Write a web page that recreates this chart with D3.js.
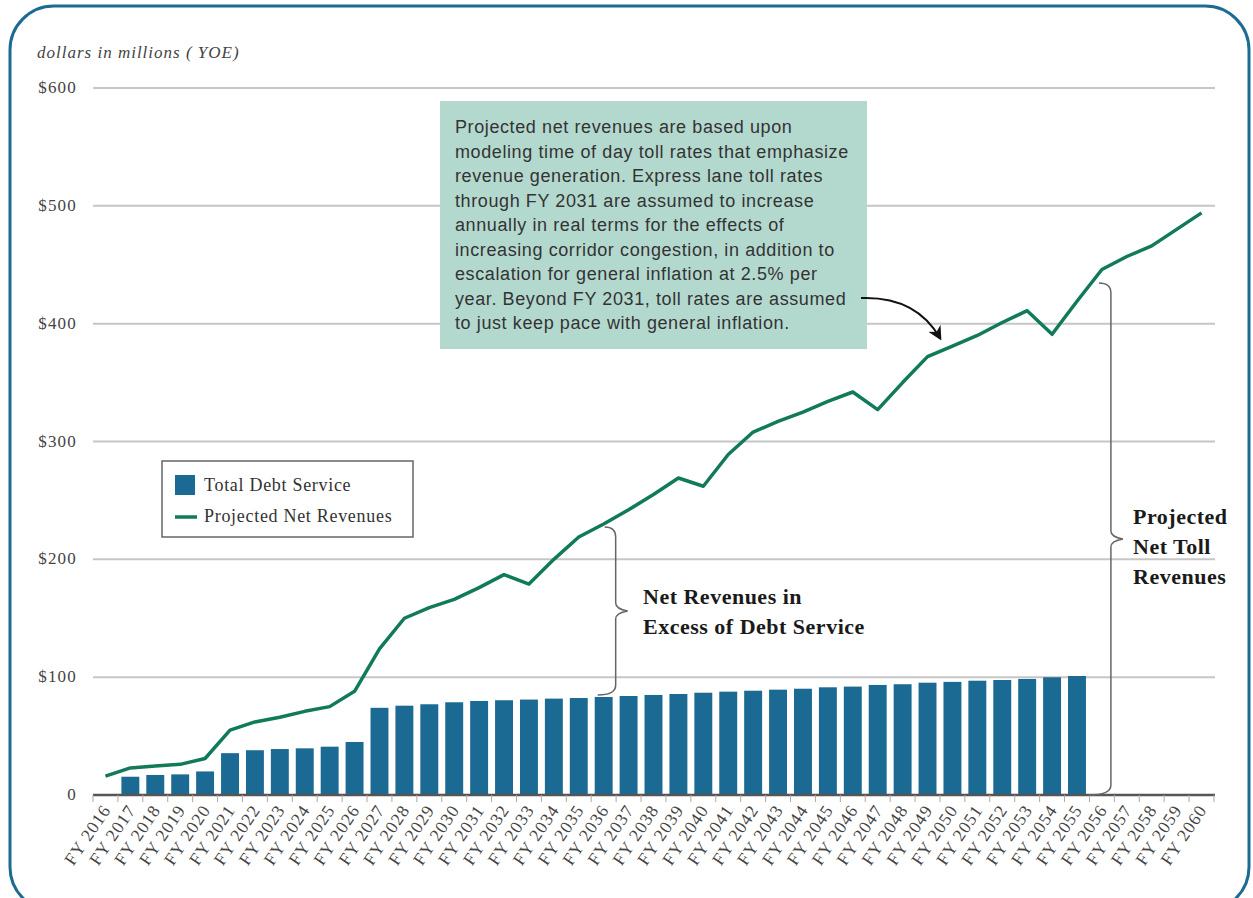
<!DOCTYPE html>
<html>
<head>
<meta charset="utf-8">
<script src="https://cdn.jsdelivr.net/npm/d3@7"></script>
<style>
  body { margin: 0; background: #fff; }
  svg { display: block; }
</style>
</head>
<body>
<div id="chart"></div>
<script>
// fiscal years on the x axis
var years = d3.range(2016, 2061);
var yearLabels = years.map(function (y) { return "FY " + y; });

// Total Debt Service, FY 2017 - FY 2055 ($ millions)
var debtYears = d3.range(2017, 2056);
var debtService = [15.5, 17, 17.5, 20, 35.5, 38, 39, 39.6, 41, 45,
    74, 75.8, 77, 78.7, 79.8, 80.4, 81, 81.8, 82.3, 83.2,
    84, 84.9, 85.7, 86.8, 87.7, 88.5, 89.4, 90.2, 91.4, 92,
    93.4, 94, 95.3, 96, 97, 97.6, 98.5, 99.9, 101];

// Projected Net Revenues, FY 2016 - FY 2060 ($ millions)
var netRevenues = [16, 23, 24.6, 26, 31, 55, 62, 66, 71, 75,
    88, 124, 150, 159, 166, 176, 187, 179, 200, 219,
    230, 242, 255, 269, 262, 289, 308, 317, 325, 334,
    342, 327, 350, 372, 381, 390, 401, 411, 391, 419,
    446, 457, 466, 480, 494];

var yTicks = [0, 100, 200, 300, 400, 500, 600];

var noteLines = [
    "Projected net revenues are based upon",
    "modeling time of day toll rates that emphasize",
    "revenue generation. Express lane toll rates",
    "through FY 2031 are assumed to increase",
    "annually in real terms for the effects of",
    "increasing corridor congestion, in addition to",
    "escalation for general inflation at 2.5% per",
    "year. Beyond FY 2031, toll rates are assumed",
    "to just keep pace with general inflation."
];

var width = 1253, height = 898;
var serif = "'Liberation Serif', 'Times New Roman', serif";
var sans = "'Liberation Sans', Arial, sans-serif";

var svg = d3.select("#chart").append("svg")
    .attr("width", width)
    .attr("height", height);

// rounded frame
svg.append("rect")
    .attr("x", 10).attr("y", 6)
    .attr("width", 1239).attr("height", 905)
    .attr("rx", 44).attr("ry", 44)
    .style("fill", "none")
    .style("stroke", "#1d6b93")
    .style("stroke-width", 3);

var x = d3.scaleBand()
    .domain(years)
    .range([93, 1214])
    .paddingInner(0.28)
    .paddingOuter(0.14);

var y = d3.scaleLinear()
    .domain([0, 600])
    .range([795, 88]);

function cx(yr) { return x(yr) + x.bandwidth() / 2; }

// gridlines
svg.append("g")
    .selectAll("line")
    .data(yTicks.filter(function (d) { return d > 0; }))
    .enter().append("line")
    .attr("x1", 93).attr("x2", 1215)
    .attr("y1", function (d) { return y(d); })
    .attr("y2", function (d) { return y(d); })
    .style("stroke", "#c6c6c6")
    .style("stroke-width", 2);

// y labels
svg.append("g")
    .selectAll("text")
    .data(yTicks)
    .enter().append("text")
    .attr("x", 77)
    .attr("y", function (d) { return y(d) + 5; })
    .attr("text-anchor", "end")
    .style("font-family", serif)
    .style("font-size", "17px")
    .style("letter-spacing", "1.2px")
    .style("fill", "#444")
    .text(function (d) { return d === 0 ? "0" : "$" + d; });

svg.append("text")
    .attr("x", 37).attr("y", 58)
    .style("font-family", serif)
    .style("font-style", "italic")
    .style("font-size", "17px")
    .style("letter-spacing", "1px")
    .style("fill", "#444")
    .text("dollars in millions ( YOE)");

// bars
svg.append("g")
    .selectAll("rect")
    .data(debtService)
    .enter().append("rect")
    .attr("x", function (d, i) { return x(debtYears[i]); })
    .attr("width", x.bandwidth())
    .attr("y", function (d) { return y(d); })
    .attr("height", function (d) { return y(0) - y(d); })
    .style("fill", "#1b6a94");

// x axis line and ticks
svg.append("line")
    .attr("x1", 93).attr("x2", 1215)
    .attr("y1", y(0)).attr("y2", y(0))
    .style("stroke", "#555")
    .style("stroke-width", 2.5);

svg.append("g")
    .selectAll("line")
    .data(years.concat([2061]))
    .enter().append("line")
    .attr("x1", function (d, i) { return 93 + x.step() * i; })
    .attr("x2", function (d, i) { return 93 + x.step() * i; })
    .attr("y1", y(0)).attr("y2", y(0) + 7)
    .style("stroke", "#b9a49a")
    .style("stroke-width", 1);

svg.append("g")
    .selectAll("text")
    .data(years)
    .enter().append("text")
    .attr("transform", function (d) {
        return "translate(" + (cx(d) + 6) + "," + (y(0) + 15) + ") rotate(-56)";
    })
    .attr("text-anchor", "end")
    .style("font-family", serif)
    .style("font-size", "17.5px")
    .style("letter-spacing", "1px")
    .style("fill", "#444")
    .text(function (d, i) { return yearLabels[i]; });

// projected net revenues line
var line = d3.line()
    .x(function (d, i) { return cx(years[i]); })
    .y(function (d) { return y(d); });

svg.append("path")
    .datum(netRevenues)
    .attr("d", line)
    .style("fill", "none")
    .style("stroke", "#117a5a")
    .style("stroke-width", 3.5)
    .style("stroke-linejoin", "round");

// legend
var legend = svg.append("g");
legend.append("rect")
    .attr("x", 162).attr("y", 461)
    .attr("width", 251).attr("height", 76)
    .style("fill", "#fff")
    .style("stroke", "#666")
    .style("stroke-width", 1.5);
legend.append("rect")
    .attr("x", 175).attr("y", 475)
    .attr("width", 20).attr("height", 20)
    .style("fill", "#1b6a94");
legend.append("line")
    .attr("x1", 175).attr("x2", 197)
    .attr("y1", 517).attr("y2", 517)
    .style("stroke", "#117a5a")
    .style("stroke-width", 3.5);
legend.append("text")
    .attr("x", 204).attr("y", 491)
    .style("font-family", serif).style("font-size", "18px")
    .style("letter-spacing", "0.7px").style("fill", "#333")
    .text("Total Debt Service");
legend.append("text")
    .attr("x", 204).attr("y", 522)
    .style("font-family", serif).style("font-size", "18px")
    .style("letter-spacing", "0.7px").style("fill", "#333")
    .text("Projected Net Revenues");

// annotation box
svg.append("rect")
    .attr("x", 440).attr("y", 101)
    .attr("width", 427).attr("height", 248)
    .style("fill", "#b3d9cf");

svg.append("g")
    .selectAll("text")
    .data(noteLines)
    .enter().append("text")
    .attr("x", 455)
    .attr("y", function (d, i) { return 133 + i * 24.5; })
    .style("font-family", sans)
    .style("font-size", "18px")
    .style("letter-spacing", "0.6px")
    .style("fill", "#333")
    .text(function (d) { return d; });

// arrow
svg.append("defs").append("marker")
    .attr("id", "arrowhead")
    .attr("viewBox", "0 0 10 10")
    .attr("refX", 8).attr("refY", 5)
    .attr("markerWidth", 7).attr("markerHeight", 7)
    .attr("orient", "auto")
    .append("path")
    .attr("d", "M0,0 L10,5 L0,10 L3,5 Z")
    .style("fill", "#111");

svg.append("path")
    .attr("d", "M861,298 Q916,296 940,338")
    .style("fill", "none")
    .style("stroke", "#111")
    .style("stroke-width", 2)
    .attr("marker-end", "url(#arrowhead)");

// braces
function brace(bx, top, bottom, tip, hookTop, hookBottom) {
    var mid = (top + bottom) / 2;
    return "M" + (bx - hookTop) + "," + top +
        " Q" + bx + "," + top + " " + bx + "," + (top + 10) +
        " L" + bx + "," + (mid - 8) +
        " Q" + bx + "," + (mid - 2) + " " + (bx + tip) + "," + mid +
        " Q" + bx + "," + (mid + 2) + " " + bx + "," + (mid + 8) +
        " L" + bx + "," + (bottom - 10) +
        " Q" + bx + "," + bottom + " " + (bx - hookBottom) + "," + bottom;
}

var b1x = cx(2036) + 12;
svg.append("path")
    .attr("d", brace(b1x, y(netRevenues[20]) + 3, y(debtService[19]) - 2, 12, 11, 18))
    .style("fill", "none")
    .style("stroke", "#666")
    .style("stroke-width", 1.5);

var b2x = cx(2056) + 9;
svg.append("path")
    .attr("d", brace(b2x, 283, y(0), 12, 12, 22))
    .style("fill", "none")
    .style("stroke", "#666")
    .style("stroke-width", 1.5);

var boldLabel = function (lines, lx, ly, dy) {
    svg.append("g")
        .selectAll("text")
        .data(lines)
        .enter().append("text")
        .attr("x", lx)
        .attr("y", function (d, i) { return ly + i * dy; })
        .style("font-family", serif)
        .style("font-weight", "bold")
        .style("font-size", "22px")
        .style("letter-spacing", "0.5px")
        .style("fill", "#1a1a1a")
        .text(function (d) { return d; });
};
boldLabel(["Net Revenues in", "Excess of Debt Service"], 643, 604, 30);
boldLabel(["Projected", "Net Toll", "Revenues"], 1133, 524, 30);
</script>
</body>
</html>
